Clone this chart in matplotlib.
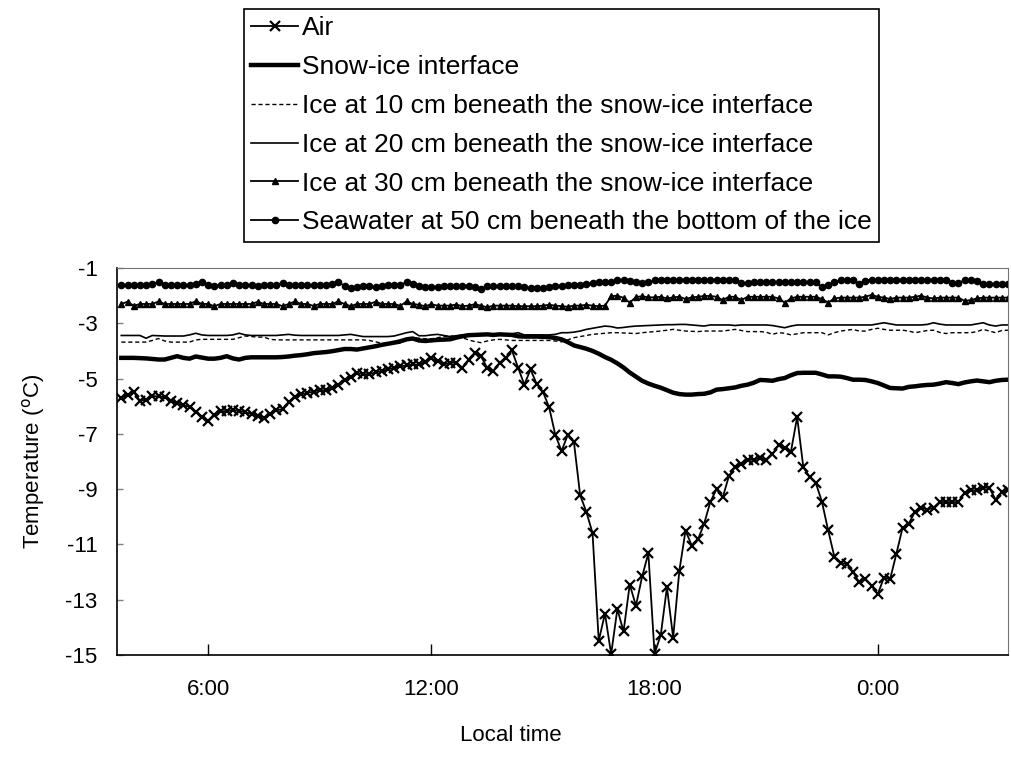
import numpy as np
import matplotlib
matplotlib.use("Agg")
import matplotlib.pyplot as plt

plt.rcParams['font.family'] = ['Liberation Sans', 'DejaVu Sans']
plt.rcParams['axes.unicode_minus'] = False

# 10-minute records starting at 3:40 local time (hours, 24 = midnight)
hours = 3 + 40 / 60 + np.arange(144) / 6

air = [
    -5.70, -5.58, -5.49, -5.80, -5.76, -5.64, -5.64, -5.68, -5.80, -5.90, -5.96, -6.02,
    -6.20, -6.40, -6.55, -6.33, -6.18, -6.18, -6.14, -6.17, -6.22, -6.28, -6.35, -6.43,
    -6.28, -6.15, -6.10, -5.85, -5.66, -5.57, -5.52, -5.47, -5.41, -5.43, -5.34, -5.22,
    -5.05, -4.93, -4.80, -4.83, -4.85, -4.77, -4.73, -4.67, -4.60, -4.56, -4.52, -4.49,
    -4.49, -4.40, -4.27, -4.37, -4.49, -4.43, -4.43, -4.61, -4.31, -4.07, -4.19, -4.61,
    -4.73, -4.43, -4.25, -3.98, -4.61, -5.22, -4.67, -5.20, -5.48, -6.04, -7.04, -7.62,
    -7.04, -7.30, -9.22, -9.82, -10.59, -14.49, -13.50, -14.97, -13.34, -14.15, -12.45, -13.22,
    -12.16, -11.32, -14.95, -14.28, -12.55, -14.37, -11.95, -10.50, -11.04, -10.82, -10.25, -9.46,
    -9.00, -9.30, -8.52, -8.20, -8.08, -7.95, -7.93, -7.87, -7.94, -7.74, -7.40, -7.52,
    -7.64, -6.39, -8.21, -8.55, -8.77, -9.46, -10.49, -11.44, -11.68, -11.70, -12.00, -12.37,
    -12.25, -12.49, -12.80, -12.20, -12.25, -11.34, -10.40, -10.25, -9.82, -9.67, -9.74, -9.67,
    -9.46, -9.47, -9.47, -9.47, -9.13, -9.04, -9.04, -8.95, -8.95, -9.38, -9.10, -9.04,
]

snow_ice = [
    -4.25, -4.25, -4.25, -4.26, -4.27, -4.29, -4.31, -4.31, -4.25, -4.19, -4.25, -4.28,
    -4.20, -4.24, -4.28, -4.28, -4.25, -4.19, -4.27, -4.31, -4.25, -4.23, -4.23, -4.23,
    -4.23, -4.23, -4.22, -4.20, -4.17, -4.15, -4.12, -4.08, -4.06, -4.04, -4.01, -3.97,
    -3.93, -3.93, -3.95, -3.91, -3.87, -3.83, -3.78, -3.74, -3.70, -3.65, -3.58, -3.55,
    -3.62, -3.64, -3.62, -3.60, -3.59, -3.58, -3.52, -3.47, -3.43, -3.42, -3.41, -3.40,
    -3.42, -3.40, -3.41, -3.42, -3.47, -3.48, -3.48, -3.48, -3.49, -3.50, -3.53, -3.58,
    -3.68, -3.80, -3.86, -3.92, -4.00, -4.10, -4.22, -4.32, -4.45, -4.60, -4.78, -4.93,
    -5.08, -5.18, -5.26, -5.33, -5.42, -5.51, -5.56, -5.58, -5.58, -5.56, -5.55, -5.50,
    -5.40, -5.38, -5.35, -5.32, -5.26, -5.22, -5.15, -5.05, -5.06, -5.08, -5.02, -4.98,
    -4.88, -4.80, -4.79, -4.79, -4.79, -4.85, -4.92, -4.92, -4.93, -4.98, -5.04, -5.04,
    -5.05, -5.10, -5.16, -5.25, -5.34, -5.35, -5.36, -5.30, -5.28, -5.25, -5.23, -5.22,
    -5.18, -5.13, -5.16, -5.20, -5.14, -5.10, -5.07, -5.10, -5.13, -5.08, -5.05, -5.04,
]

ice_10 = [
    -3.68, -3.68, -3.68, -3.68, -3.68, -3.62, -3.55, -3.64, -3.68, -3.68, -3.68, -3.68,
    -3.60, -3.58, -3.58, -3.58, -3.58, -3.58, -3.58, -3.52, -3.46, -3.48, -3.50, -3.50,
    -3.58, -3.60, -3.60, -3.60, -3.60, -3.60, -3.60, -3.60, -3.60, -3.60, -3.60, -3.60,
    -3.60, -3.60, -3.60, -3.60, -3.62, -3.67, -3.72, -3.74, -3.74, -3.72, -3.60, -3.52,
    -3.54, -3.56, -3.56, -3.52, -3.48, -3.46, -3.47, -3.52, -3.60, -3.66, -3.70, -3.64,
    -3.60, -3.58, -3.60, -3.62, -3.62, -3.62, -3.62, -3.62, -3.62, -3.62, -3.64, -3.67,
    -3.60, -3.52, -3.48, -3.44, -3.40, -3.38, -3.36, -3.34, -3.34, -3.35, -3.36, -3.37,
    -3.34, -3.32, -3.30, -3.28, -3.25, -3.22, -3.25, -3.28, -3.29, -3.30, -3.28, -3.28,
    -3.28, -3.28, -3.25, -3.22, -3.26, -3.30, -3.30, -3.30, -3.32, -3.40, -3.34, -3.36,
    -3.42, -3.38, -3.34, -3.34, -3.34, -3.34, -3.42, -3.34, -3.28, -3.25, -3.22, -3.28,
    -3.28, -3.22, -3.18, -3.22, -3.25, -3.25, -3.25, -3.28, -3.34, -3.30, -3.26, -3.25,
    -3.33, -3.37, -3.34, -3.34, -3.34, -3.34, -3.30, -3.22, -3.28, -3.34, -3.26, -3.25,
]

ice_20 = [
    -3.44, -3.44, -3.44, -3.44, -3.54, -3.44, -3.45, -3.46, -3.46, -3.46, -3.46, -3.42,
    -3.36, -3.42, -3.44, -3.44, -3.44, -3.44, -3.42, -3.36, -3.42, -3.44, -3.44, -3.44,
    -3.44, -3.44, -3.42, -3.40, -3.43, -3.44, -3.44, -3.44, -3.44, -3.44, -3.44, -3.44,
    -3.42, -3.40, -3.44, -3.48, -3.48, -3.48, -3.48, -3.48, -3.46, -3.40, -3.34, -3.30,
    -3.45, -3.45, -3.42, -3.40, -3.44, -3.48, -3.45, -3.42, -3.40, -3.40, -3.40, -3.40,
    -3.40, -3.40, -3.40, -3.38, -3.34, -3.42, -3.42, -3.42, -3.42, -3.42, -3.40, -3.34,
    -3.34, -3.32, -3.28, -3.22, -3.18, -3.14, -3.10, -3.12, -3.17, -3.15, -3.12, -3.10,
    -3.09, -3.08, -3.07, -3.06, -3.05, -3.05, -3.04, -3.04, -3.06, -3.08, -3.10, -3.06,
    -3.06, -3.06, -3.06, -3.08, -3.06, -3.06, -3.06, -3.06, -3.06, -3.08, -3.12, -3.16,
    -3.10, -3.06, -3.06, -3.06, -3.06, -3.06, -3.06, -3.06, -3.06, -3.06, -3.06, -3.06,
    -3.06, -3.06, -3.02, -2.98, -3.02, -3.06, -3.06, -3.06, -3.06, -3.06, -3.04, -2.98,
    -3.03, -3.06, -3.06, -3.06, -3.06, -3.06, -3.02, -2.98, -3.06, -3.10, -3.06, -3.06,
]

ice_30 = [
    -2.30, -2.22, -2.37, -2.30, -2.30, -2.30, -2.21, -2.30, -2.30, -2.30, -2.30, -2.30,
    -2.20, -2.30, -2.30, -2.38, -2.30, -2.30, -2.30, -2.30, -2.30, -2.30, -2.22, -2.30,
    -2.30, -2.30, -2.38, -2.30, -2.21, -2.30, -2.30, -2.37, -2.30, -2.30, -2.30, -2.21,
    -2.30, -2.38, -2.30, -2.30, -2.30, -2.22, -2.30, -2.30, -2.30, -2.37, -2.21, -2.30,
    -2.33, -2.38, -2.31, -2.36, -2.36, -2.36, -2.32, -2.38, -2.36, -2.31, -2.36, -2.42,
    -2.36, -2.36, -2.36, -2.36, -2.38, -2.38, -2.38, -2.38, -2.36, -2.33, -2.36, -2.38,
    -2.40, -2.36, -2.36, -2.33, -2.36, -2.38, -2.36, -2.02, -2.00, -2.08, -2.25, -2.05,
    -2.02, -2.06, -2.06, -2.04, -2.10, -2.06, -2.04, -2.12, -2.06, -2.04, -2.01, -2.01,
    -2.04, -2.16, -2.04, -2.04, -2.16, -2.04, -2.04, -2.04, -2.04, -2.04, -2.10, -2.25,
    -2.10, -2.04, -2.04, -2.04, -2.04, -2.12, -2.25, -2.10, -2.07, -2.07, -2.07, -2.07,
    -2.04, -1.97, -2.04, -2.07, -2.12, -2.07, -2.07, -2.07, -2.04, -2.00, -2.07, -2.10,
    -2.07, -2.07, -2.07, -2.07, -2.19, -2.16, -2.10, -2.07, -2.07, -2.07, -2.07, -2.07,
]

seawater = [
    -1.62, -1.62, -1.62, -1.62, -1.62, -1.58, -1.52, -1.60, -1.62, -1.62, -1.62, -1.62,
    -1.58, -1.52, -1.60, -1.64, -1.62, -1.60, -1.54, -1.60, -1.62, -1.62, -1.64, -1.62,
    -1.62, -1.60, -1.54, -1.60, -1.62, -1.62, -1.62, -1.62, -1.62, -1.60, -1.58, -1.52,
    -1.64, -1.72, -1.68, -1.64, -1.64, -1.68, -1.66, -1.62, -1.62, -1.60, -1.52, -1.58,
    -1.64, -1.67, -1.67, -1.68, -1.66, -1.64, -1.64, -1.64, -1.64, -1.68, -1.76, -1.66,
    -1.64, -1.64, -1.64, -1.64, -1.66, -1.70, -1.72, -1.72, -1.72, -1.68, -1.64, -1.64,
    -1.62, -1.60, -1.60, -1.58, -1.54, -1.52, -1.52, -1.50, -1.44, -1.44, -1.46, -1.50,
    -1.55, -1.52, -1.44, -1.42, -1.42, -1.42, -1.42, -1.42, -1.42, -1.42, -1.42, -1.42,
    -1.42, -1.42, -1.42, -1.44, -1.55, -1.55, -1.52, -1.52, -1.52, -1.52, -1.52, -1.52,
    -1.52, -1.52, -1.52, -1.52, -1.52, -1.70, -1.60, -1.52, -1.44, -1.44, -1.44, -1.56,
    -1.48, -1.42, -1.42, -1.42, -1.42, -1.42, -1.42, -1.42, -1.42, -1.42, -1.42, -1.42,
    -1.42, -1.44, -1.55, -1.55, -1.44, -1.44, -1.48, -1.58, -1.58, -1.58, -1.58, -1.58,
]

tick_hours = [6, 12, 18, 24]
tick_labels = ['6:00', '12:00', '18:00', '0:00']

fig = plt.figure(figsize=(10.11, 7.58), dpi=100)
ax = fig.add_axes([0.1157, 0.1359, 0.8813, 0.5105])

ax.plot(hours, air, color='black', lw=1.3, marker='x', ms=6.5, mew=1.6,
        label='Air')
ax.plot(hours, snow_ice, color='black', lw=3.2, label='Snow-ice interface')
ax.plot(hours, ice_10, color='black', lw=1.0, ls=(0, (3, 2)),
        label='Ice at 10 cm beneath the snow-ice interface')
ax.plot(hours, ice_20, color='black', lw=1.2,
        label='Ice at 20 cm beneath the snow-ice interface')
ax.plot(hours, ice_30, color='black', lw=1.3, marker='^', ms=4.5,
        label='Ice at 30 cm beneath the snow-ice interface')
ax.plot(hours, seawater, color='black', lw=1.3, marker='o', ms=4.5,
        label='Seawater at 50 cm beneath the bottom of the ice')

ax.set_xlim(3.55, 27.5)
ax.set_ylim(-15, -1)
ax.set_xticks(tick_hours)
ax.set_xticklabels(tick_labels)
ax.set_yticks(np.arange(-15, 0, 2))
ax.tick_params(axis='x', direction='in', length=8, width=1, pad=17, labelsize=16)
ax.tick_params(axis='y', direction='in', length=4, width=1, color='0.5',
               pad=14, labelsize=16)

for side in ['top', 'right']:
    ax.spines[side].set_color('0.45')
    ax.spines[side].set_linewidth(0.8)
for side in ['left', 'bottom']:
    ax.spines[side].set_color('black')
    ax.spines[side].set_linewidth(1.2)

ax.set_xlabel('Local time', fontsize=16)
ax.xaxis.set_label_coords(0.442, -0.18)
ax.set_ylabel('Temperature ($^{\\rm o}$C)', fontsize=16)
ax.yaxis.set_label_coords(-0.078, 0.5)

leg = fig.legend(loc='upper center', bbox_to_anchor=(0.555, 0.988),
                 fontsize=19, numpoints=1, handlelength=1.8, handletextpad=0.12,
                 labelspacing=0.56, borderpad=0.28, borderaxespad=0,
                 fancybox=False, framealpha=1, edgecolor='black')
leg.get_frame().set_linewidth(1.2)

fig.savefig('out.png', dpi=100)
